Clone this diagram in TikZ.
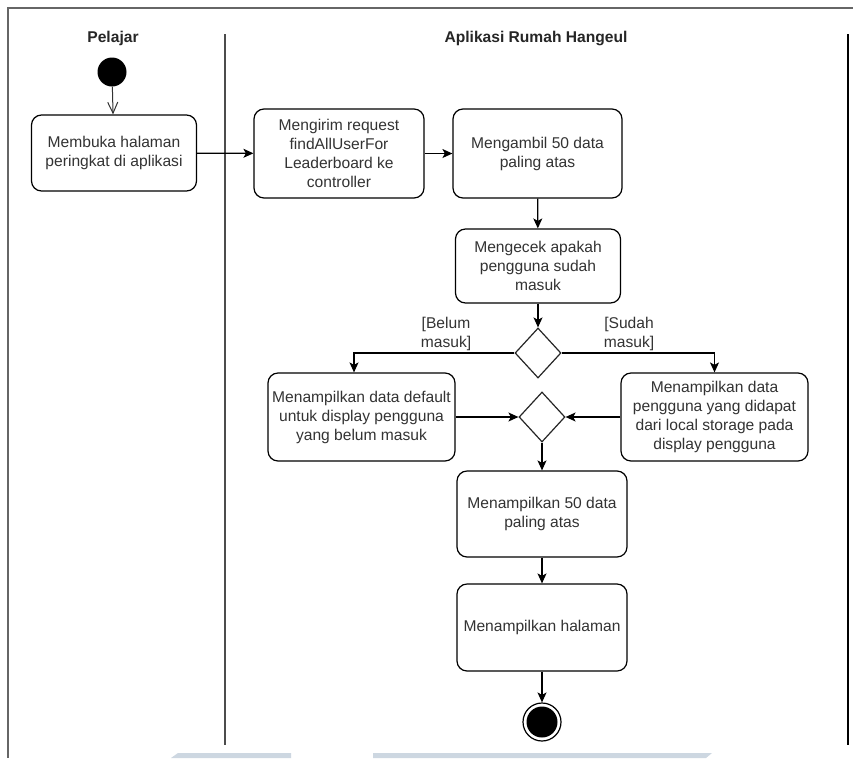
\documentclass[tikz,border=0pt]{standalone}
\usepackage{fontspec}
\setmainfont{Liberation Sans}
\usetikzlibrary{arrows.meta,shapes.geometric}
\definecolor{txt}{HTML}{333333}
\definecolor{frame}{HTML}{666666}
\definecolor{band}{HTML}{CDD7E1}
\begin{document}
\begin{tikzpicture}[x=1pt,y=-1pt,
  act/.style={draw=black, line width=1.2pt, rounded corners=10pt, fill=white,
    align=center, text=txt, inner sep=0pt,
    font=\fontsize{15.6}{19}\selectfont},
  decision/.style={draw=black!85, line width=1.2pt, shape=diamond, fill=white,
    inner sep=0pt, minimum width=46pt, minimum height=50pt},
  flow/.style={draw=black, line width=1.2pt,
    -{Stealth[length=10pt,width=9pt,inset=2.5pt]}},
  openflow/.style={draw=black!80, line width=1pt,
    -{Straight Barb[length=11pt,width=10pt]}},
  lanehead/.style={text=black!85, font=\fontsize{15.6}{19}\selectfont\bfseries},
  guard/.style={text=txt, align=center, font=\fontsize{15.6}{19}\selectfont}
]
\useasboundingbox (0,0) rectangle (853,758);
\fill[white] (0,0) rectangle (853,758);

% faint strip along the lower edge
\fill[band] (171,758) -- (178,753) -- (291,753) -- (291,758) -- cycle;
\fill[band] (373,753) -- (712,753) -- (706,758) -- (373,758) -- cycle;

% swimlane frame
\coordinate (tl) at (8,8);
\coordinate (tr) at (853,8);
\coordinate (bl) at (8,758);
\draw[frame, line width=1.5pt] (tr) -- (tl) -- (bl);
\coordinate (divtop) at (225,34);
\coordinate (divbot) at (225,745);
\draw[black!70, line width=1.5pt] (divtop) -- (divbot);
\coordinate (rtop) at (848,34);
\coordinate (rbot) at (848,745);
\draw[black, line width=1.5pt] (rtop) -- (rbot);

% lane titles
\node[lanehead] (laneA) at (113,38) {Pelajar};
\node[lanehead] (laneB) at (536,38) {Aplikasi Rumah Hangeul};

% start and end
\node[circle, fill=black, minimum size=29pt, inner sep=0pt] (start) at (112,72) {};
\node[circle, draw=black, line width=1.2pt, fill=white, minimum size=38pt, inner sep=0pt] (stop) at (542,722) {};
\node[circle, fill=black, minimum size=31pt, inner sep=0pt] (stopdot) at (542,722) {};

% activities
\node[act, minimum width=165pt, minimum height=76pt] (b1) at (114,153)
  {Membuka halaman\\peringkat di aplikasi};
\node[act, minimum width=170pt, minimum height=89pt] (b2) at (339,153.5)
  {Mengirim request\\findAllUserFor\\Leaderboard ke\\controller};
\node[act, minimum width=169pt, minimum height=89pt] (b3) at (537.5,153.5)
  {Mengambil 50 data\\paling atas};
\node[act, minimum width=165pt, minimum height=74pt] (b4) at (538,266)
  {Mengecek apakah\\pengguna sudah\\masuk};
\node[decision] (d1) at (538,353) {};
\node[act, minimum width=187pt, minimum height=88pt] (b5) at (361.5,417)
  {Menampilkan data default\\untuk display pengguna\\yang belum masuk};
\node[act, minimum width=187pt, minimum height=88pt] (b6) at (714.5,417)
  {Menampilkan data\\pengguna yang didapat\\dari local storage pada\\display pengguna};
\node[decision] (d2) at (542,417) {};
\node[act, minimum width=170pt, minimum height=86pt] (b7) at (542,514)
  {Menampilkan 50 data\\paling atas};
\node[act, minimum width=170pt, minimum height=87pt] (b8) at (542,627.5)
  {Menampilkan halaman};

% guards
\node[guard] (gno) at (446,334) {[Belum\\masuk]};
\node[guard] (gyes) at (629,334) {[Sudah\\masuk]};

% flows
\draw[openflow] (start) -- (b1);
\draw[flow] (b1) -- (b2);
\draw[flow] (b2) -- (b3);
\draw[flow] (b3) -- (b4);
\draw[flow] (b4) -- (d1);
\draw[flow] (d1.west) -| ([xshift=-7.5pt]b5.north);
\draw[flow] (d1.east) -| (b6.north);
\draw[flow] (b5) -- (d2);
\draw[flow] (b6) -- (d2);
\draw[flow] (d2) -- (b7);
\draw[flow] (b7) -- (b8);
\draw[flow] (b8) -- (stop);
\end{tikzpicture}
\end{document}
